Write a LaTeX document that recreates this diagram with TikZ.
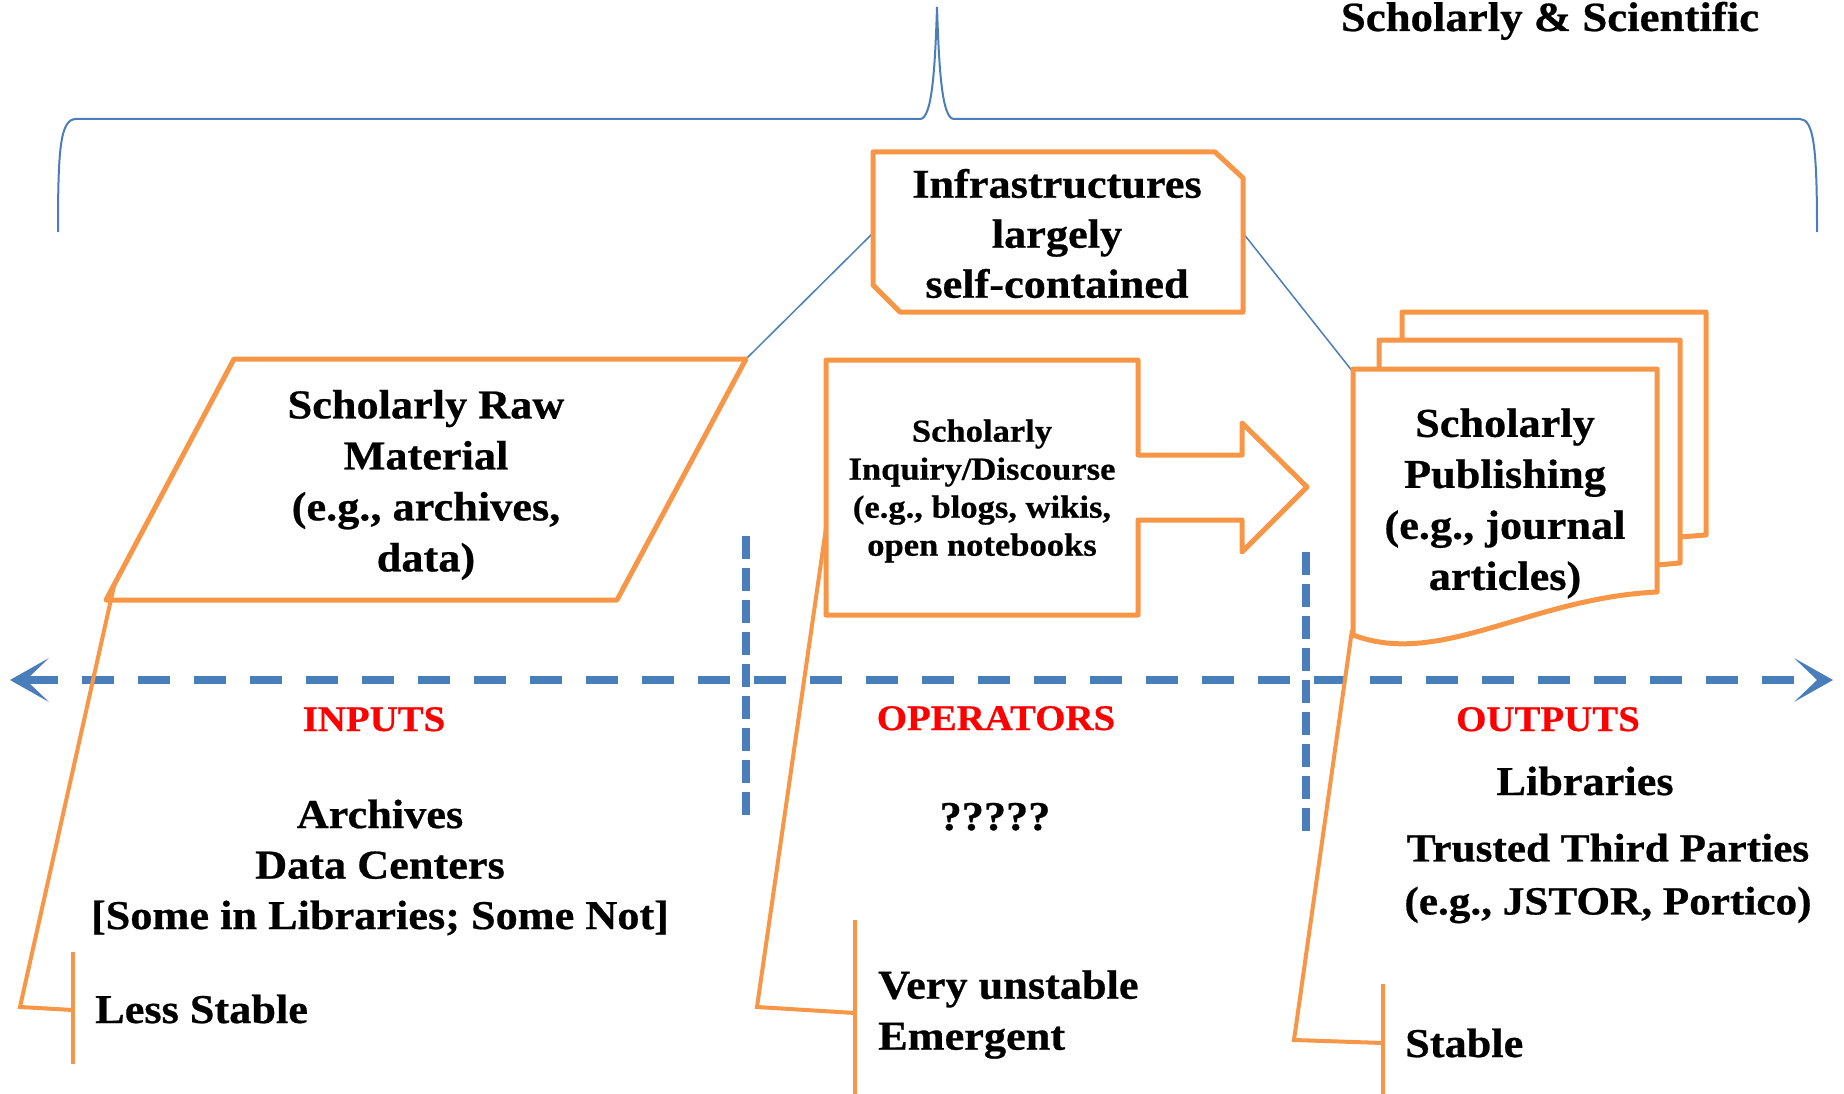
\documentclass[tikz,border=0pt]{standalone}
\usepackage{fontspec}
\setmainfont{Liberation Serif}[FakeStretch=1.08, BoldFeatures={FakeBold=0.6}]
\usetikzlibrary{arrows.meta}
\definecolor{orng}{RGB}{247,150,70}
\definecolor{blu}{RGB}{74,126,187}
\definecolor{rd}{RGB}{255,0,0}
\begin{document}
\begin{tikzpicture}[x=1pt,y=-1pt,
  shapeline/.style={draw=orng, line width=5pt, line join=round, fill=white},
  callout/.style={draw=orng, line width=4pt, line join=miter},
  accentbar/.style={draw=orng, line width=4pt},
  thinblue/.style={draw=blu, line width=1.5pt},
  bracepath/.style={draw=blu, line width=2pt},
  axisline/.style={draw=blu, line width=7.5pt, dash pattern=on 32pt off 24pt},
  divider/.style={draw=blu, line width=8pt, dash pattern=on 23pt off 9pt},
  tipstyle/.tip={Stealth[length=39pt,width=44pt,inset=23pt,line width=1pt]},
  bigtext/.style={font=\bfseries\fontsize{41}{51}\selectfont, align=center, inner sep=0pt},
  smalltext/.style={font=\bfseries\fontsize{32}{38}\selectfont, align=center, inner sep=0pt},
  redlabel/.style={font=\bfseries\fontsize{36}{44}\selectfont, text=rd, inner sep=0pt, anchor=base},
  bodytext/.style={font=\bfseries\fontsize{41}{51}\selectfont, inner sep=0pt},
  titletext/.style={font=\bfseries\fontsize{41.5}{50}\selectfont, inner sep=0pt, anchor=base},
]
\useasboundingbox (0,0) rectangle (1844,1094);

% brace
\draw[bracepath] (58,232) .. controls (58,150) and (60,119) .. (76,119) -- (920,119)
  .. controls (932,119) and (935,70) .. (937,7)
  .. controls (939,70) and (942,119) .. (954,119) -- (1800,119)
  .. controls (1814,119) and (1817,150) .. (1817,232);

% connection coordinates
\coordinate (infraL) at (873,233);
\coordinate (infraR) at (1243,233);
\coordinate (rawTR) at (746,359);
\coordinate (pubTL) at (1353,372);
\draw[thinblue] (infraL) -- (rawTR);
\draw[thinblue] (infraR) -- (pubTL);

% Infrastructures box
\draw[shapeline] (873,152) -- (1215,152) -- (1243,178) -- (1243,312) -- (900,312) -- (873,285) -- cycle;

% Raw material parallelogram
\draw[shapeline] (234,359) -- (746,359) -- (617,600) -- (106,600) -- cycle;

% Inquiry arrow box
\draw[shapeline] (826,360) -- (1138,360) -- (1138,455) -- (1242,455) -- (1242,423) -- (1307,487)
  -- (1242,552) -- (1242,520) -- (1138,520) -- (1138,615) -- (826,615) -- cycle;

% Publishing multi-document
\draw[shapeline] (1402,340) -- (1402,312) -- (1706,312) -- (1706,535) -- (1680,537);
\draw[shapeline] (1379,369) -- (1379,340) -- (1680,340) -- (1680,563) -- (1657,565);
\draw[shapeline] (1353,369) -- (1657,369) -- (1657,592)
  .. controls (1530,598) and (1440,668) .. (1353,635) -- cycle;

% axis and dividers
\coordinate (axL) at (10,680);
\coordinate (axR) at (1833,680);
\draw[axisline, tipstyle-tipstyle] (axL) -- (axR);
\coordinate (d1t) at (746,536);
\coordinate (d1b) at (746,815);
\coordinate (d2t) at (1306,552);
\coordinate (d2b) at (1306,832);
\draw[divider] (d1t) -- (d1b);
\draw[divider] (d2t) -- (d2b);

% callouts
\coordinate (c1a) at (114,586);
\coordinate (c1b) at (20,1007);
\coordinate (c1c) at (73,1010);
\coordinate (c1t) at (73,952);
\coordinate (c1u) at (73,1064);
\draw[callout] (c1a) -- (c1b) -- (c1c);
\draw[accentbar] (c1t) -- (c1u);

\coordinate (c2a) at (826,528);
\coordinate (c2b) at (757,1007);
\coordinate (c2c) at (855,1013);
\coordinate (c2t) at (855,920);
\coordinate (c2u) at (855,1094);
\draw[callout] (c2a) -- (c2b) -- (c2c);
\draw[accentbar] (c2t) -- (c2u);

\coordinate (c3a) at (1352,630);
\coordinate (c3b) at (1294,1040);
\coordinate (c3c) at (1383,1043);
\coordinate (c3t) at (1383,984);
\coordinate (c3u) at (1383,1094);
\draw[callout] (c3a) -- (c3b) -- (c3c);
\draw[accentbar] (c3t) -- (c3u);

% texts
\node[titletext] (ttl) at (1550,31) {Scholarly \& Scientific};
\node[bigtext, font=\bfseries\fontsize{41}{50}\selectfont] (infra) at (1057,233.5) {Infrastructures\\largely\\self-contained};
\node[bigtext] (raw) at (426,485) {Scholarly Raw\\Material\\(e.g., archives,\\data)};
\node[smalltext] (inq) at (982,491) {Scholarly\\Inquiry/Discourse\\(e.g., blogs, wikis,\\open notebooks};
\node[bigtext] (pub) at (1505,503.5) {Scholarly\\Publishing\\(e.g., journal\\articles)};

\node[redlabel] (inp) at (374,731) {INPUTS};
\node[redlabel] (ops) at (996,730) {OPERATORS};
\node[redlabel] (outp) at (1548,731) {OUTPUTS};

\node[bodytext, align=center, font=\bfseries\fontsize{41}{50.5}\selectfont] (arch) at (380,867.5) {Archives\\Data Centers\\{[Some in Libraries; Some Not]}};
\node[bodytext, anchor=base] (qq) at (995,830) {?????};
\node[bodytext, anchor=base] (lib) at (1585,795) {Libraries};
\node[bodytext, align=center, font=\bfseries\fontsize{40}{53}\selectfont] (ttp) at (1608,878.5) {Trusted Third Parties\\(e.g., JSTOR, Portico)};

\node[bodytext, anchor=base west] (ls) at (95,1023) {Less Stable};
\node[bodytext, align=left, anchor=west] (vu) at (878,1014.5) {Very unstable\\Emergent};
\node[bodytext, anchor=base west] (st) at (1405,1057) {Stable};
\end{tikzpicture}
\end{document}
